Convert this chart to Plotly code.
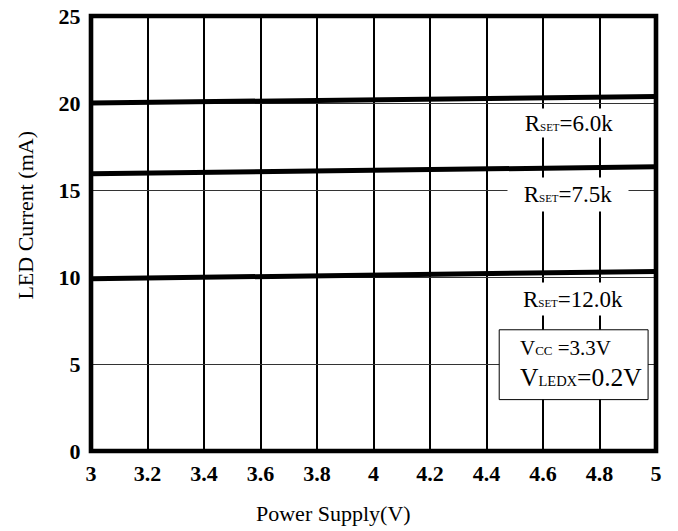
import plotly.graph_objects as go

# ---- Data ----
supply_v = [3.0, 3.5, 4.0, 4.5, 5.0]
i_rset_6k0 = [20.0, 20.1, 20.18, 20.27, 20.37]
i_rset_7k5 = [15.94, 16.03, 16.12, 16.22, 16.33]
i_rset_12k0 = [9.9, 10.0, 10.1, 10.2, 10.32]

x_ticks = [3, 3.2, 3.4, 3.6, 3.8, 4, 4.2, 4.4, 4.6, 4.8, 5]
x_tick_labels = ["3", "3.2", "3.4", "3.6", "3.8", "4", "4.2", "4.4", "4.6", "4.8", "5"]
y_ticks = [0, 5, 10, 15, 20, 25]
y_tick_labels = ["0", "5", "10", "15", "20", "25"]

series = [("RSET=6.0k", i_rset_6k0), ("RSET=7.5k", i_rset_7k5), ("RSET=12.0k", i_rset_12k0)]

FONT = "Liberation Serif, Times New Roman, serif"

fig = go.Figure()
for name, vals in series:
    fig.add_trace(go.Scatter(x=supply_v, y=vals, mode="lines", name=name,
                             line=dict(color="black", width=5), showlegend=False,
                             hoverinfo="skip"))

def rset(v):
    return "R<span style='font-size:11px'>SET</span>=" + v

# labels with white background (break the grid lines like in the original)
label_specs = [
    (4.692, 18.84, rset("6.0k"), 118, 26),
    (4.689, 14.76, rset("7.5k"), 118, 31),
    (4.706, 8.74, rset("12.0k"), 118, 30),
]
for lx, ly, txt, w, h in label_specs:
    fig.add_annotation(x=lx, y=ly, xref="x", yref="y", text=txt,
                       showarrow=False, bgcolor="white", width=w, height=h,
                       font=dict(family=FONT, size=23, color="black"))

# conditions box
fig.add_shape(type="rect", xref="x", yref="y", x0=4.445, x1=4.972, y0=2.953, y1=6.967,
              line=dict(color="black", width=1), fillcolor="white", layer="above")
fig.add_annotation(x=4.511, y=5.9, xref="x", yref="y", xanchor="left",
                   text="V<span style='font-size:13px'>CC</span> =3.3V",
                   showarrow=False, font=dict(family=FONT, size=21, color="black"))
fig.add_annotation(x=4.511, y=4.22, xref="x", yref="y", xanchor="left",
                   text="V<span style='font-size:14.5px'>LEDX</span>=0.2V",
                   showarrow=False, font=dict(family=FONT, size=25.5, color="black"))

# plot frame
fig.add_shape(type="rect", xref="paper", yref="paper", x0=0, x1=1, y0=0, y1=1,
              line=dict(color="black", width=4.6), fillcolor="rgba(0,0,0,0)", layer="above")

L, R, T, B = 90.5, 22, 15.5, 79.5
W, H = 678, 531
pw, ph = W - L - R, H - T - B

fig.add_annotation(x=(333 - L) / pw, y=(H - B - 514) / ph, xref="paper", yref="paper",
                   text="Power Supply(V)", showarrow=False, yanchor="middle",
                   font=dict(family=FONT, size=22, color="black"))
fig.add_annotation(x=(24 - L) / pw, y=(H - B - 215) / ph, xref="paper", yref="paper",
                   text="LED Current (mA)", showarrow=False, textangle=-90,
                   xanchor="center", yanchor="middle",
                   font=dict(family=FONT, size=22, color="black"))

fig.update_layout(
    width=W, height=H,
    margin=dict(l=L, r=R, t=T, b=B, autoexpand=False),
    paper_bgcolor="white", plot_bgcolor="white",
    font=dict(family=FONT, color="black"),
    hovermode=False,
)
fig.update_xaxes(range=[3, 5], tickvals=x_ticks, ticktext=x_tick_labels,
                 showgrid=True, gridcolor="black", gridwidth=1.5,
                 showline=False, zeroline=False,
                 ticks="outside", ticklen=3, tickcolor="rgba(0,0,0,0)",
                 tickfont=dict(family=FONT, size=22, color="black", weight="bold"))
fig.update_yaxes(range=[0, 25], tickvals=y_ticks, ticktext=y_tick_labels,
                 showgrid=True, gridcolor="#333", gridwidth=1.2,
                 showline=False, zeroline=False,
                 ticks="outside", ticklen=5, tickcolor="rgba(0,0,0,0)",
                 tickfont=dict(family=FONT, size=22, color="black", weight="bold"))

fig.write_html("out.html", config={"displayModeBar": False},
               post_script="document.body.style.margin='0';document.body.style.overflow='hidden';")
